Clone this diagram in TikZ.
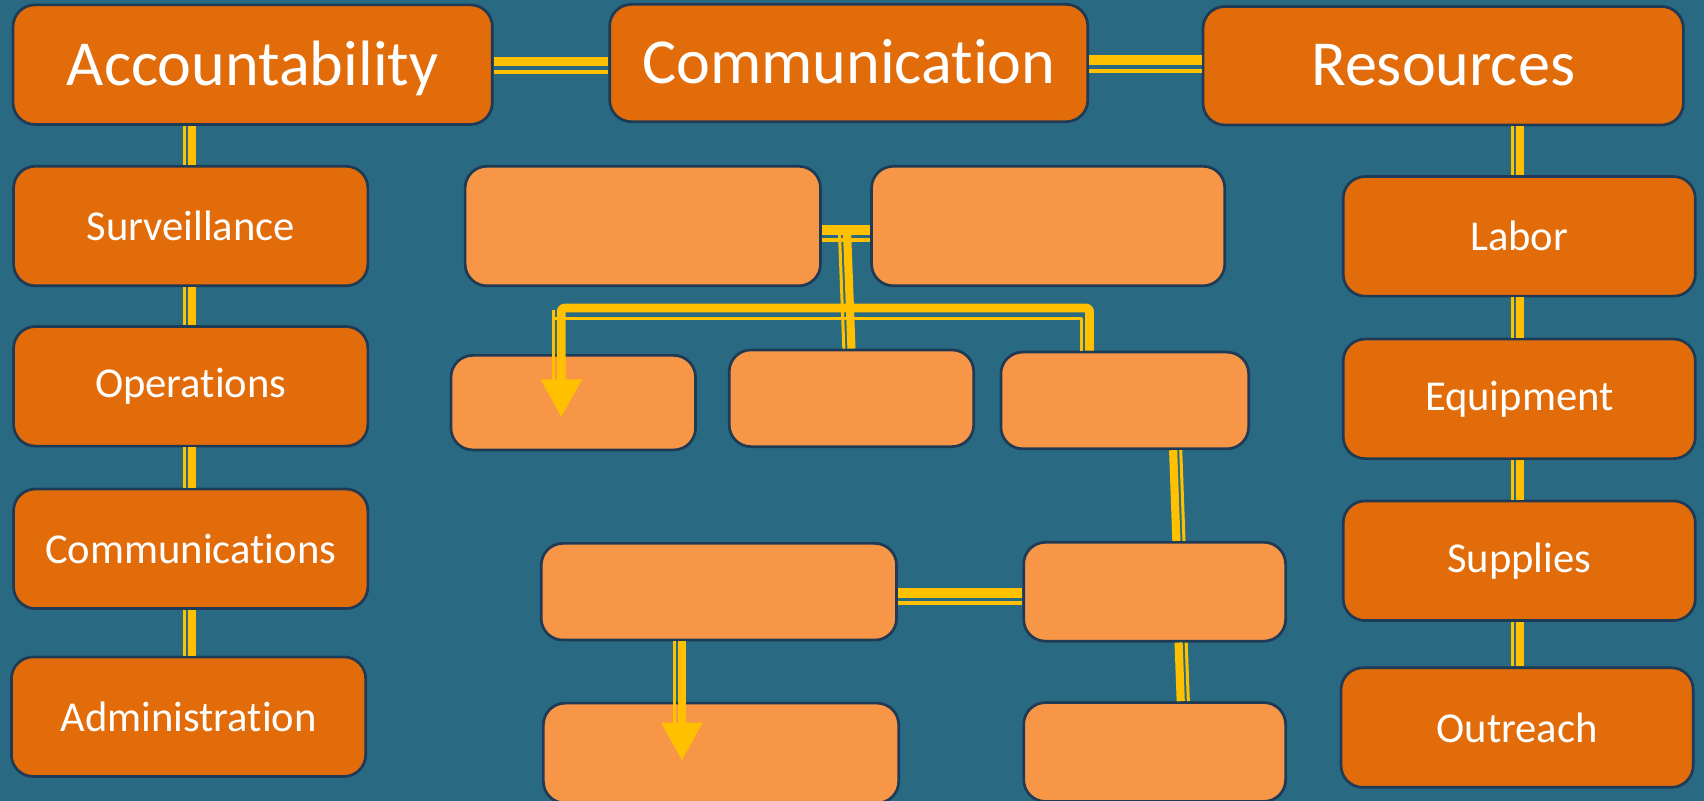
\documentclass[tikz,border=0pt]{standalone}
\usepackage{fontspec}
\setmainfont[Ligatures={NoCommon}]{Carlito}
\usetikzlibrary{arrows.meta,calc}

\definecolor{bgteal}{HTML}{296A82}
\definecolor{darkorange}{HTML}{E36C0A}
\definecolor{lightorange}{HTML}{F79646}
\definecolor{linkgold}{HTML}{FFC000}
\definecolor{boxedge}{HTML}{1F3A55}

\tikzset{
  mainbox/.style={draw=boxedge, line width=0.5mm, fill=darkorange, rounded corners=4mm, text=white, inner sep=0pt},
  topbox/.style={mainbox, minimum width=88.2mm, minimum height=22mm, font=\fontsize{33.6}{40}\selectfont, text depth=0.12em},
  sidebox/.style={mainbox, minimum width=65.2mm, minimum height=22mm, font=\fontsize{22.3}{26}\selectfont},
  blankbox/.style={mainbox, fill=lightorange},
  hthick/.style={draw=linkgold, line width=1.8mm, transform canvas={yshift=0.7mm}},
  hthin/.style={draw=linkgold, line width=0.7mm, transform canvas={yshift=-1.2mm}},
  vthick/.style={draw=linkgold, line width=1.5mm, transform canvas={xshift=#1}},
  vthick/.default=0.5mm,
  vthin/.style={draw=linkgold, line width=0.56mm, transform canvas={xshift=#1}},
  vthin/.default=-0.9mm,
  tip/.style={-{Triangle[width=7.2mm,length=7mm]}}
}

\begin{document}
\begin{tikzpicture}[x=0.2mm, y=-0.2mm, line join=round]
  \useasboundingbox (0,0) rectangle (1568,737);
  \fill[bgteal] (0,0) rectangle (1568,737);

  % top row
  \node[topbox] (acc) at (232.5,59.5) {Accountability};
  \node[topbox, minimum width=88mm, minimum height=21.6mm] (comm) at (781,58) {Communication};
  \node[topbox, minimum width=88.4mm, minimum height=21.8mm] (res) at (1328,60.5) {Resources};

  % left column
  \node[sidebox] (surv) at (175.5,208) {Surveillance};
  \node[sidebox] (oper) at (175.5,355.5) {Operations};
  \node[sidebox] (comms) at (175.5,505) {Communications};
  \node[sidebox] (admin) at (173.5,659.5) {Administration};

  % right column
  \node[sidebox, minimum width=64.8mm] (labor) at (1398,217.5) {Labor};
  \node[sidebox, minimum width=64.8mm] (equip) at (1398,367) {Equipment};
  \node[sidebox, minimum width=64.8mm] (supp) at (1398,516) {Supplies};
  \node[sidebox, minimum width=64.8mm] (outr) at (1396,669.5) {Outreach};

  % empty boxes in the middle
  \node[blankbox, minimum width=65.4mm, minimum height=22mm] (bA) at (591.5,208) {};
  \node[blankbox, minimum width=65mm, minimum height=22mm] (bB) at (964.5,208) {};
  \node[blankbox, minimum width=45mm, minimum height=17.4mm] (bC) at (527.5,370.5) {};
  \node[blankbox, minimum width=45mm, minimum height=17.8mm] (bD) at (783.5,366.5) {};
  \node[blankbox, minimum width=45.6mm, minimum height=17.8mm] (bE) at (1035,368.5) {};
  \node[blankbox, minimum width=65.4mm, minimum height=17.8mm] (bF) at (661.5,544.5) {};
  \node[blankbox, minimum width=48.2mm, minimum height=18.2mm] (bG) at (1062.5,544.5) {};
  \node[blankbox, minimum width=65.4mm, minimum height=18.4mm] (bH) at (663.5,693) {};
  \node[blankbox, minimum width=48.2mm, minimum height=18.2mm] (bI) at (1062.5,692) {};

  \coordinate (jAB) at (777,215);
  \coordinate (barL) at (514,287);
  \coordinate (barR) at (1000,287);
  \coordinate (tipC) at (514,384);
  \coordinate (tipH) at (625,700);

  % links between the headings
  \draw[hthick] (acc.east |- 0,60) -- (comm.west |- 0,60);
  \draw[hthin] (acc.east |- 0,60) -- (comm.west |- 0,60);
  \draw[hthick] (comm.east |- 0,59) -- (res.west |- 0,59);
  \draw[hthin] (comm.east |- 0,59) -- (res.west |- 0,59);

  % columns
  \foreach \a/\b in {acc/surv, surv/oper, oper/comms, comms/admin}{
    \draw[vthick] (174,0 |- \a.south) -- (174,0 |- \b.north);
    \draw[vthin] (174,0 |- \a.south) -- (174,0 |- \b.north);
  }
  \foreach \a/\b in {res/labor, labor/equip, equip/supp, supp/outr}{
    \draw[vthick] (1396,0 |- \a.south) -- (1396,0 |- \b.north);
    \draw[vthin] (1396,0 |- \a.south) -- (1396,0 |- \b.north);
  }

  % middle tree
  \draw[hthick] (bA.east |- 0,215) -- (bB.west |- 0,215);
  \draw[hthin] (bA.east |- 0,215) -- (bB.west |- 0,215);
  \draw[vthick] (jAB) -- (781,0 |- bD.north);
  \draw[vthin] (jAB) -- (781,0 |- bD.north);
  \draw[draw=linkgold, line width=1.6mm, rounded corners=0.5mm, tip] ($(barR |- bE.north)+(2.5,0)$) -- ($(barR)+(2.5,-3.5)$) -- ($(barL)+(2.5,-3.5)$) -- ($(tipC)+(2.5,0)$);
  \draw[draw=linkgold, line width=0.6mm] ($(barL)+(-4.5,6)$) -- ($(barR)+(-4.5,6)$) -- ($(barR |- bE.north)+(-4.5,0)$);
  \draw[draw=linkgold, line width=0.6mm] ($(barL)+(-4.5,-2)$) -- ($(barL)+(-4.5,64)$);

  \draw[vthick=-0.5mm] (1082,0 |- bE.south) -- (1085,0 |- bG.north);
  \draw[vthin=0.9mm] (1082,0 |- bE.south) -- (1085,0 |- bG.north);
  \draw[hthick] (bF.east |- 0,549) -- (bG.west |- 0,549);
  \draw[hthin] (bF.east |- 0,549) -- (bG.west |- 0,549);
  \draw[vthick=-0.5mm] (1087,0 |- bG.south) -- (1089,0 |- bI.north);
  \draw[vthin=0.9mm] (1087,0 |- bG.south) -- (1089,0 |- bI.north);
  \draw[vthick, tip] (625,0 |- bF.south) -- (tipH);
  \draw[vthin] (625,0 |- bF.south) -- (625,665);
\end{tikzpicture}
\end{document}
